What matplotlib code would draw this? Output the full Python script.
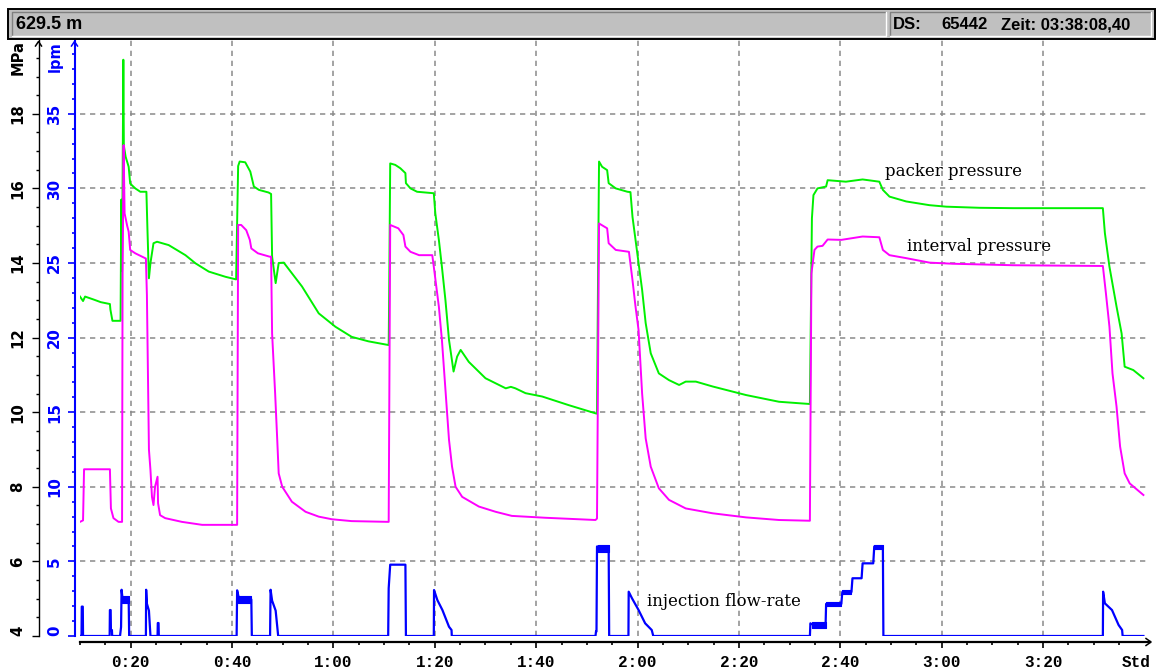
###  Packer-Test: Packerdruck, Intervalldruck und Injektionsrate  ###
import numpy as np
import matplotlib.pyplot as plt
from matplotlib.patches import Rectangle
from matplotlib.lines import Line2D

plt.rcParams['lines.scale_dashes'] = False

##                         Messdaten                               ##
# Zeit in Minuten, Drücke in MPa
packer_t = [10.0, 10.6, 11.0, 12.7, 14.1, 15.9, 16.0, 16.4, 18.0, 18.15, 18.3, 18.55, 18.65,
            19.0, 19.6, 19.9, 20.9, 21.9, 23.1, 23.3, 23.6, 23.9, 24.5, 25.2, 27.5, 30.8,
            32.8, 35.4, 38.7, 40.8, 41.2, 41.5, 42.6, 43.6, 44.3, 45.3, 47.2, 47.7, 47.9,
            48.6, 49.2, 50.2, 53.8, 57.1, 60.4, 63.6, 66.9, 70.9, 71.0, 71.2, 72.2, 73.2,
            74.2, 74.3, 75.2, 76.5, 79.8, 80.1, 80.8, 81.4, 82.1, 82.8, 83.7, 84.4, 85.1,
            86.7, 90.0, 94.0, 95.0, 95.9, 97.9, 101.2, 106.4, 111.7, 112.0, 112.2, 112.4,
            113.0, 114.0, 114.3, 115.7, 118.0, 118.6, 119.0, 119.6, 120.2, 120.9, 121.6,
            122.6, 124.2, 126.2, 128.2, 129.5, 131.5, 134.8, 141.4, 147.9, 151.9, 154.0,
            154.2, 154.4, 154.7, 155.5, 157.2, 157.5, 161.1, 164.4, 167.7, 168.4, 169.7,
            173.0, 177.6, 180.9, 187.5, 194.1, 211.8, 212.2, 213.1, 214.5, 215.5, 216.1,
            217.8, 219.8]
packer_p = [13.10, 12.98, 13.10, 13.02, 12.95, 12.90, 12.75, 12.45, 12.45, 15.70, 13.80,
            19.45, 17.15, 16.85, 16.58, 16.13, 16.00, 15.91, 15.91, 14.93, 13.59, 14.00,
            14.53, 14.57, 14.48, 14.21, 13.99, 13.77, 13.63, 13.56, 16.60, 16.72, 16.70,
            16.45, 16.05, 15.96, 15.89, 15.85, 14.17, 13.46, 14.00, 14.01, 13.37, 12.65,
            12.29, 12.02, 11.90, 11.80, 13.20, 16.67, 16.63, 16.54, 16.41, 16.14, 16.00,
            15.91, 15.87, 15.33, 14.62, 13.90, 13.00, 11.94, 11.09, 11.49, 11.67, 11.35,
            10.91, 10.64, 10.68, 10.64, 10.51, 10.42, 10.19, 9.97, 9.96, 13.54, 16.72,
            16.58, 16.49, 16.14, 16.00, 15.91, 15.90, 15.24, 14.62, 14.00, 13.28, 12.39,
            11.58, 11.04, 10.86, 10.73, 10.82, 10.82, 10.69, 10.46, 10.28, 10.24, 10.22,
            12.70, 15.20, 15.82, 16.00, 16.05, 16.22, 16.18, 16.24, 16.18, 15.96, 15.78,
            15.65, 15.55, 15.51, 15.48, 15.47, 15.47, 14.80, 13.90, 12.83, 12.11, 11.22,
            11.13, 10.91]

interval_t = [10.0, 10.6, 10.8, 15.9, 16.1, 16.6, 17.6, 18.3, 18.4, 18.6, 18.8, 19.3,
              19.6, 19.9, 20.9, 23.0, 23.2, 23.6, 23.9, 24.2, 24.5, 24.8, 25.3, 25.4, 25.8,
              26.8, 30.1, 34.1, 41.0, 41.2, 41.8, 42.8, 43.5, 43.8, 45.1, 47.4, 47.7, 47.9,
              48.5, 48.9, 49.2, 49.9, 51.8, 54.5, 57.1, 59.7, 63.6, 70.9, 71.2, 72.8, 73.8,
              74.2, 75.2, 76.9, 79.5, 79.8, 80.8, 81.4, 82.1, 82.8, 83.4, 84.1, 85.4, 88.7,
              92.0, 95.2, 101.8, 111.7, 112.0, 112.4, 114.0, 114.3, 115.7, 118.3, 119.0,
              119.6, 120.2, 120.9, 121.6, 122.6, 124.2, 126.2, 129.5, 134.8, 141.4, 147.9,
              154.0, 154.3, 154.9, 155.5, 156.5, 157.5, 160.2, 164.4, 167.7, 168.4, 169.7,
              173.0, 177.6, 182.2, 194.1, 211.8, 212.4, 213.1, 213.7, 214.5, 215.2, 216.1,
              217.1, 219.8]
interval_p = [7.06, 7.10, 8.47, 8.47, 7.42, 7.16, 7.06, 7.06, 13.70, 17.16, 15.33, 15.00,
              14.84, 14.35, 14.26, 14.12, 13.14, 9.00, 8.45, 7.73, 7.51, 8.00, 8.27, 7.56,
              7.24, 7.16, 7.06, 6.98, 6.98, 15.02, 15.02, 14.88, 14.62, 14.39, 14.26, 14.17,
              14.17, 12.11, 10.50, 9.30, 8.36, 8.00, 7.60, 7.33, 7.20, 7.13, 7.08, 7.06,
              15.02, 14.93, 14.75, 14.44, 14.30, 14.21, 14.21, 13.90, 12.83, 11.94, 10.60,
              9.26, 8.54, 8.00, 7.73, 7.47, 7.33, 7.22, 7.17, 7.11, 7.15, 15.06, 14.93,
              14.53, 14.35, 14.30, 13.54, 12.83, 12.20, 10.50, 9.30, 8.54, 7.96, 7.65, 7.42,
              7.29, 7.18, 7.11, 7.09, 13.72, 14.35, 14.44, 14.46, 14.63, 14.62, 14.71, 14.69,
              14.35, 14.21, 14.13, 14.01, 13.98, 13.94, 13.92, 13.19, 12.29, 11.04, 10.15,
              9.08, 8.36, 8.09, 7.78]

# Injektionsrate in l/min
flow_t = [10.0, 10.3, 10.35, 10.55, 10.6, 15.85, 15.9, 16.05, 16.1, 16.3, 16.35, 17.9,
          18.1, 18.2, 18.4, 19.6, 19.7, 23.0, 23.05, 23.2, 23.6, 23.9, 25.3, 25.35, 25.5,
          25.55, 40.9, 41.0, 41.4, 43.8, 43.9, 47.5, 47.6, 47.9, 48.6, 49.1, 70.8, 70.9,
          71.2, 74.2, 74.3, 79.8, 79.85, 80.5, 81.5, 82.8, 83.3, 83.35, 111.7, 111.8,
          111.9, 112.0, 114.3, 114.4, 118.2, 118.25, 118.9, 120.2, 121.5, 122.8, 123.1,
          154.0, 154.1, 154.3, 157.1, 157.2, 160.2, 160.4, 162.2, 162.4, 164.2, 164.4,
          166.5, 166.7, 168.4, 168.5, 211.8, 211.85, 212.2, 213.6, 214.9, 215.6, 215.7,
          219.8]
flow_q = [0.0, 0.0, 1.97, 1.97, 0.0, 0.0, 1.74, 1.74, 0.40, 0.40, 0.0, 0.0,
          0.60, 3.10, 2.50, 2.50, 0.0, 0.0, 3.10, 2.17, 1.70, 0.0, 0.0, 0.87, 0.87,
          0.0, 0.0, 3.06, 2.45, 2.45, 0.0, 0.0, 3.10, 2.37, 1.70, 0.0, 0.0, 3.20,
          4.78, 4.78, 0.0, 0.0, 3.08, 2.41, 1.74, 0.62, 0.40, 0.0, 0.0, 0.30,
          0.30, 6.00, 6.00, 0.0, 0.0, 2.97, 2.53, 1.74, 0.85, 0.40, 0.0,
          0.0, 0.85, 0.80, 0.80, 2.15, 2.15, 2.95, 2.95, 3.87, 3.87, 4.87,
          4.87, 6.00, 6.00, 0.0, 0.0, 2.97, 2.19, 1.74, 0.74, 0.40, 0.0,
          0.0]

# unruhige Plateaus der Durchflussmessung: Beginn, Ende, min, max
band_t0 = [18.3, 41.1, 112.1, 154.4, 157.2, 160.4, 166.7]
band_t1 = [19.6, 43.8, 114.3, 157.1, 160.2, 162.2, 168.4]
band_lo = [2.20, 2.20, 5.65, 0.51, 2.00, 2.80, 5.83]
band_hi = [2.70, 2.65, 6.10, 0.96, 2.30, 3.08, 6.10]

mpa_ticks = [4, 6, 8, 10, 12, 14, 16, 18]
lpm_ticks = [0, 5, 10, 15, 20, 25, 30, 35]
time_ticks = [20, 40, 60, 80, 100, 120, 140, 160, 180, 200]
time_labels = ['0:20', '0:40', '1:00', '1:20', '1:40', '2:00', '2:20', '2:40', '3:00', '3:20']

##                            Figur                                ##
W, H = 1158, 669
fig = plt.figure(figsize=(W / 100, H / 100), dpi=100, facecolor='white')
ax = fig.add_axes([80 / W, 33 / H, 1070 / W, 596.8 / H])
ax.set_xlim(10, 221.1)
ax.set_ylim(4, 20)
ax.patch.set_visible(False)

axb = ax.twinx()
axb.set_ylim(0, 40)

grid_kw = dict(color='#8a8a8a', lw=1.1, ls=(0, (3.8, 3.4)), zorder=0)
for m in time_ticks:
    ax.axvline(m, **grid_kw)
for p in mpa_ticks[1:]:
    ax.axhline(p, **grid_kw)

##                           Kurven                                ##
ax.plot(packer_t, packer_p, color='#00f000', lw=1.4, zorder=3)
ax.plot(interval_t, interval_p, color='#ff00ff', lw=1.4, zorder=3)
axb.plot(flow_t, flow_q, color='#0000ff', lw=1.6, zorder=3)
for t0, t1, lo, hi in zip(band_t0, band_t1, band_lo, band_hi):
    axb.fill_between([t0, t1], [lo, lo], [hi, hi], color='#0000ff', lw=0.8)

txt_kw = dict(family='DejaVu Serif', fontsize=12, color='black', va='center')
ax.text(168.9, 16.45, 'packer pressure', **txt_kw)
ax.text(173.2, 14.43, 'interval pressure', **txt_kw)
ax.text(121.8, 4.92, 'injection flow-rate', **txt_kw)

##                            Achsen                               ##
px = 72 / 100  # Pixel -> Punkt
for s in ['top', 'right']:
    ax.spines[s].set_visible(False)
    axb.spines[s].set_visible(False)
axb.spines['bottom'].set_visible(False)

ax.spines['left'].set_position(('outward', 41.5 * px))
ax.spines['left'].set_linewidth(1.0)
ax.spines['bottom'].set_position(('outward', 6 * px))
ax.spines['bottom'].set_linewidth(1.6)

axb.spines['left'].set_visible(True)
axb.spines['left'].set_position(('outward', 5.5 * px))
axb.spines['left'].set_color('#0000ff')
axb.spines['left'].set_linewidth(1.5)
axb.yaxis.set_ticks_position('left')

ax.set_yticks(mpa_ticks, [str(v) for v in mpa_ticks])
ax.set_yticks(np.arange(4, 20, 0.5), minor=True)
axb.set_yticks(lpm_ticks, [str(v) for v in lpm_ticks])
axb.set_yticks(np.arange(0, 40, 1), minor=True)
ax.set_xticks(time_ticks + [218.4], time_labels + ['Std'])
ax.set_xticks(np.arange(10, 216, 5), minor=True)

ax.tick_params(axis='y', which='major', length=7 * px, width=1, pad=6 * px,
               labelrotation=90, labelsize=10.8, colors='black')
ax.tick_params(axis='y', which='minor', length=3.5 * px, width=1)
axb.tick_params(axis='y', which='major', length=7 * px, width=1.2, pad=5.5 * px,
                labelrotation=90, labelsize=10.8, colors='#0000ff')
axb.tick_params(axis='y', which='minor', length=3.5 * px, width=1.2, colors='#0000ff')
ax.tick_params(axis='x', which='major', length=6 * px, width=1.2, pad=7 * px, labelsize=11.5)
ax.tick_params(axis='x', which='minor', length=3 * px, width=1.2)
ax.xaxis.get_major_ticks()[-1].tick1line.set_visible(False)

for lab in ax.get_yticklabels() + axb.get_yticklabels():
    lab.set_fontweight('bold')
    lab.set_family('DejaVu Sans')
    lab.set_va('center')
ax.get_yticklabels()[0].set_va('bottom')
axb.get_yticklabels()[0].set_va('bottom')
for lab in ax.get_xticklabels():
    lab.set_fontweight('bold')
    lab.set_family('Liberation Mono')

##                    Kopfzeile, Pfeile, Einheiten                 ##
top = fig.add_axes([0, 0, 1, 1], zorder=5)
top.set_xlim(0, W)
top.set_ylim(H, 0)
top.axis('off')
top.patch.set_visible(False)

top.add_patch(Rectangle((8, 9), 1147, 30, facecolor='#c0c0c0', edgecolor='black', lw=1.4))
for x0, w in [(12, 874), (890, 261)]:
    top.add_patch(Rectangle((x0, 12), w, 24, facecolor='#c0c0c0', edgecolor='none'))
    top.add_line(Line2D([x0, x0, x0 + w], [36, 12, 12], color='#808080', lw=1))
    top.add_line(Line2D([x0, x0 + w, x0 + w], [36, 36, 12], color='white', lw=1))

hdr_kw = dict(family='Liberation Sans', fontweight='bold', va='center', color='black')
top.text(16, 24.5, '629.5 m', fontsize=13, **hdr_kw)
top.text(893, 24.5, 'DS:', fontsize=12, **hdr_kw)
top.text(941, 24.5, '65442', fontsize=12, **hdr_kw)
top.text(1001, 24.5, 'Zeit: 03:38:08,40', fontsize=12, **hdr_kw)

top.text(18.5, 58, 'MPa', rotation=90, ha='center', va='center', fontsize=10.5,
         fontweight='bold', family='DejaVu Sans', color='black')
top.text(55.5, 57, 'lpm', rotation=90, ha='center', va='center', fontsize=10.5,
         fontweight='bold', family='DejaVu Sans', color='#0000ff')

for xs, ys, c in [([35.5, 38.5, 41.5], [46, 41.5, 46], 'black'),
                  ([71.5, 74.5, 77.5], [46, 41.5, 46], '#0000ff'),
                  ([1146, 1151, 1146], [638.5, 642, 645.5], 'black')]:
    top.add_line(Line2D(xs, ys, color=c, lw=1.1))

plt.savefig('out.png', dpi=100, facecolor='white')
